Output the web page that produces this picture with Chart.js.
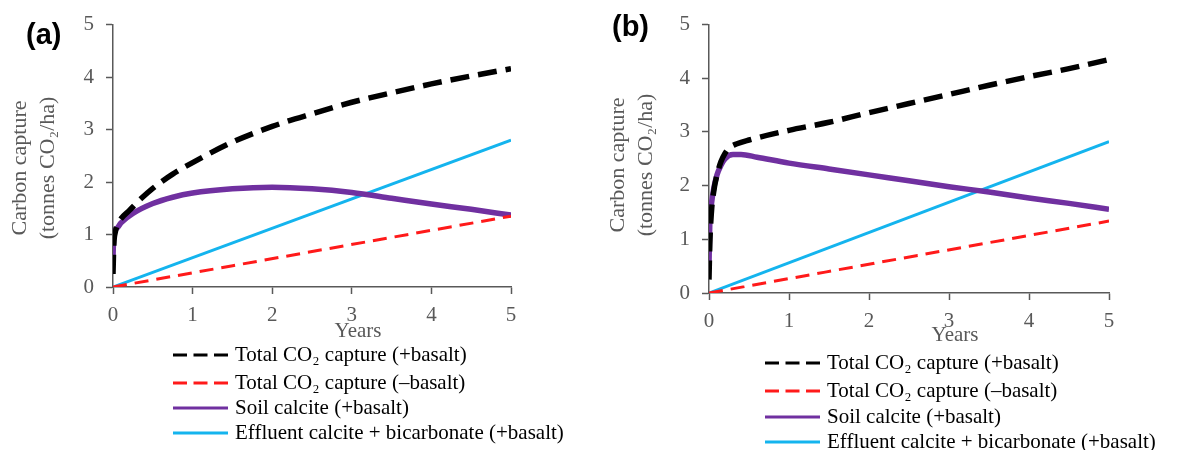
<!DOCTYPE html>
<html>
<head>
<meta charset="utf-8">
<script src="https://cdn.jsdelivr.net/npm/chart.js@4.4.1/dist/chart.umd.min.js"></script>
<style>
  body { margin: 0; background: #fff; }
  .panel { position: absolute; top: 0; height: 450px; }
  #wrapA { left: 0; width: 599px; }
  #wrapB { left: 599px; width: 598px; }
</style>
</head>
<body>
<div class="panel" id="wrapA"><canvas id="chartA"></canvas></div>
<div class="panel" id="wrapB"><canvas id="chartB"></canvas></div>
<script>
// ---- data ----
const seriesLabels = [
  "Total CO\u2082 capture (+basalt)",
  "Total CO\u2082 capture (\u2013basalt)",
  "Soil calcite (+basalt)",
  "Effluent calcite + bicarbonate (+basalt)"
];
const yTitle = ["Carbon capture", "(tonnes CO\u2082/ha)"];
const xTitle = "Years";
const yTicks = [0, 1, 2, 3, 4, 5];
const xTicks = [0, 1, 2, 3, 4, 5];

// panel (a)
const yearsTotalA = [0, 0.01, 0.03, 0.06, 0.1, 0.2, 0.35, 0.5, 0.75, 1, 1.5, 2, 2.5, 3, 3.5, 4, 4.5, 5];
const totalBasaltA = [0.25, 0.8, 1.05, 1.2, 1.3, 1.45, 1.68, 1.88, 2.15, 2.37, 2.76, 3.06, 3.3, 3.52, 3.7, 3.87, 4.02, 4.16];
const yearsSoilA = [0, 0.01, 0.05, 0.1, 0.25, 0.5, 0.75, 1, 1.5, 2, 2.5, 3, 3.5, 4, 4.5, 5];
const soilCalciteA = [0.55, 1.0, 1.12, 1.22, 1.4, 1.59, 1.71, 1.79, 1.87, 1.9, 1.87, 1.8, 1.69, 1.58, 1.48, 1.37];
const yearsLinA = [0, 5];
const totalNoBasaltA = [0, 1.35];
const effluentA = [0, 2.8];

// panel (b)
const yearsTotalB = [0, 0.01, 0.03, 0.06, 0.1, 0.15, 0.2, 0.25, 0.35, 0.5, 1, 1.5, 2, 2.5, 3, 3.5, 4, 4.5, 5];
const totalBasaltB = [0.25, 0.9, 1.5, 1.9, 2.2, 2.45, 2.6, 2.7, 2.78, 2.85, 3.03, 3.18, 3.36, 3.53, 3.7, 3.87, 4.03, 4.18, 4.35];
const yearsSoilB = [0, 0.01, 0.03, 0.06, 0.1, 0.15, 0.2, 0.3, 0.4, 0.6, 1, 1.5, 2, 2.5, 3, 3.5, 4, 4.5, 5];
const soilCalciteB = [0.5, 1.3, 1.65, 1.95, 2.2, 2.38, 2.5, 2.58, 2.58, 2.53, 2.42, 2.31, 2.2, 2.09, 1.98, 1.88, 1.77, 1.67, 1.56];
const yearsLinB = [0, 5];
const totalNoBasaltB = [0, 1.34];
const effluentB = [0, 2.82];

const GREY = "#595959";
const SERIF = "'Liberation Serif', 'Times New Roman', serif";

function pts(xs, ys) {
  return xs.map((x, i) => ({ x: x, y: ys[i] }));
}

// axis titles, panel letter and a left-aligned legend column, drawn by hand
const panelDecor = {
  id: "panelDecor",
  afterDraw(chart, args, o) {
    const ctx = chart.ctx;
    ctx.save();
    ctx.textBaseline = "middle";
    ctx.fillStyle = "#000";
    ctx.font = "bold 29px 'Liberation Sans', Arial, sans-serif";
    ctx.fillText(o.panel, o.panelX, o.panelY);

    ctx.fillStyle = GREY;
    ctx.font = "21px " + SERIF;
    ctx.textAlign = "center";
    ctx.fillText(xTitle, o.titleX, o.titleY);

    // y title, two rotated lines
    ctx.font = "22px " + SERIF;
    yTitle.forEach((t, i) => {
      ctx.save();
      ctx.translate(o.yTitleX[i], o.yTitleY);
      ctx.rotate(-Math.PI / 2);
      ctx.fillText(t, 0, 0);
      ctx.restore();
    });

    ctx.textAlign = "left";
    chart.data.datasets.forEach((ds, i) => {
      const y = o.legendY[i];
      ctx.beginPath();
      ctx.strokeStyle = ds.borderColor;
      ctx.lineWidth = 3;
      ctx.setLineDash(ds.borderDash ? [14, 6.5] : []);
      ctx.moveTo(o.legendX, y);
      ctx.lineTo(o.legendX + 55, y);
      ctx.stroke();
      ctx.fillStyle = "#000";
      ctx.font = "21px " + SERIF;
      ctx.fillText(ds.label, o.legendX + 62, y);
    });
    ctx.restore();
  }
};

function makeChart(id, d, lay) {
  return new Chart(document.getElementById(id), {
    type: "line",
    data: {
      datasets: [
        { label: seriesLabels[0], data: pts(d.xTotal, d.total), borderColor: "#000000", borderWidth: 5.5, borderDash: [19, 9] },
        { label: seriesLabels[1], data: pts(d.xLin, d.noBasalt), borderColor: "#ff1a1a", borderWidth: 3, borderDash: [14, 8] },
        { label: seriesLabels[2], data: pts(d.xSoil, d.soil), borderColor: "#7030a0", borderWidth: 5.5 },
        { label: seriesLabels[3], data: pts(d.xLin, d.effluent), borderColor: "#14b4ee", borderWidth: 3 }
      ]
    },
    options: {
      responsive: true,
      maintainAspectRatio: false,
      animation: false,
      elements: { point: { radius: 0 }, line: { cubicInterpolationMode: "monotone" } },
      layout: { padding: { left: 0, right: lay.right, top: lay.top, bottom: lay.bottom } },
      plugins: {
        legend: { display: false },
        tooltip: { enabled: false },
        panelDecor: lay.decor
      },
      scales: {
        x: {
          type: "linear",
          min: xTicks[0],
          max: xTicks[xTicks.length - 1],
          afterBuildTicks: s => { s.ticks = xTicks.map(v => ({ value: v })); },
          afterFit: s => { s.height = 60; },
          border: { color: GREY, width: 1.5 },
          grid: { drawOnChartArea: false, drawTicks: true, tickLength: 7, tickColor: GREY, tickWidth: 1.5 },
          ticks: { color: GREY, font: { family: SERIF, size: 21 }, padding: 9, maxRotation: 0 }
        },
        y: {
          min: yTicks[0],
          max: yTicks[yTicks.length - 1],
          afterBuildTicks: s => { s.ticks = yTicks.map(v => ({ value: v })); },
          afterFit: s => { s.width = lay.yWidth; },
          border: { color: GREY, width: 1.5 },
          grid: { drawOnChartArea: false, drawTicks: true, tickLength: 7, tickColor: GREY, tickWidth: 1.5 },
          ticks: { color: GREY, font: { family: SERIF, size: 21 }, padding: 12 }
        }
      }
    },
    plugins: [panelDecor]
  });
}

makeChart("chartA",
  { xTotal: yearsTotalA, total: totalBasaltA, xSoil: yearsSoilA, soil: soilCalciteA, xLin: yearsLinA, noBasalt: totalNoBasaltA, effluent: effluentA },
  { right: 88, top: 23, bottom: 103, yWidth: 113,
    decor: { panel: "(a)", panelX: 26, panelY: 36, titleX: 358, titleY: 331,
             yTitleX: [20, 48], yTitleY: 168,
             legendX: 173, legendY: [355, 383, 408, 433] } });

makeChart("chartB",
  { xTotal: yearsTotalB, total: totalBasaltB, xSoil: yearsSoilB, soil: soilCalciteB, xLin: yearsLinB, noBasalt: totalNoBasaltB, effluent: effluentB },
  { right: 88, top: 14, bottom: 97, yWidth: 110,
    decor: { panel: "(b)", panelX: 13, panelY: 28, titleX: 356, titleY: 335,
             yTitleX: [19, 47], yTitleY: 165,
             legendX: 166, legendY: [363, 391, 417, 442] } });
</script>
</body>
</html>
